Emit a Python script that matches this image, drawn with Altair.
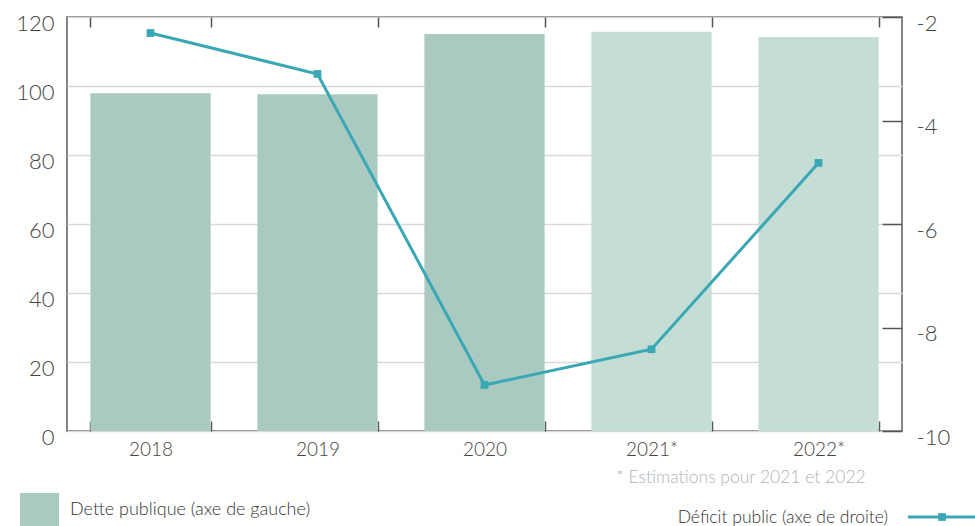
import altair as alt
import pandas as pd

# Public debt (% of GDP, left axis) and public deficit (% of GDP, right axis)
annees = ["2018", "2019", "2020", "2021*", "2022*"]
dette = [97.9, 97.6, 115.1, 115.7, 114.2]
deficit = [-2.31, -3.10, -9.11, -8.42, -4.82]
statut = ["Réalisé", "Réalisé", "Réalisé", "Estimation", "Estimation"]

ticks_gauche = [0, 20, 40, 60, 80, 100, 120]
ticks_droite = [-10, -8, -6, -4, -2]

legende_dette = "Dette publique (axe de gauche)"
legende_deficit = "Déficit public (axe de droite)"
note = "* Estimations pour 2021 et 2022"

FONT = "Lato"
WEIGHT = 300
TXT = "#444444"
BAR_DARK = "#aacac1"
BAR_LIGHT = "#c4ddd5"
LINE = "#3aa7b5"

df = pd.DataFrame({"annee": annees, "dette": dette, "deficit": deficit, "statut": statut})
one = pd.DataFrame({"k": [0]})

W, H = 835, 414

x_scale = alt.Scale(domain=annees, paddingInner=0.28, paddingOuter=0.14)

bars = alt.Chart(df).mark_bar().encode(
    x=alt.X("annee:N", sort=annees, scale=x_scale,
            axis=alt.Axis(title=None, orient="bottom", labelAngle=0, tickBand="extent",
                          offset=-10, tickSize=10, tickColor="#555", tickWidth=1.5,
                          domain=False, grid=False, labelPadding=9,
                          labelFont=FONT, labelFontSize=19, labelFontWeight=WEIGHT,
                          labelColor=TXT)),
    y=alt.Y("dette:Q", scale=alt.Scale(domain=[0, 120], nice=False, zero=True),
            axis=alt.Axis(title=None, orient="left", values=ticks_gauche, ticks=False,
                          domain=False, grid=True, gridColor="#d9d9d9", gridWidth=1.5,
                          labelPadding=13, labelOffset=6, labelFont=FONT,
                          labelFontSize=22, labelFontWeight=WEIGHT, labelColor=TXT)),
    color=alt.Color("statut:N", scale=alt.Scale(domain=["Réalisé", "Estimation"],
                                                range=[BAR_DARK, BAR_LIGHT]), legend=None),
)

line = alt.Chart(df).mark_line(
    color=LINE, strokeWidth=3,
    point=alt.OverlayMarkDef(shape="square", size=60, filled=True, color=LINE, opacity=1),
).encode(
    x=alt.X("annee:N", sort=annees, scale=x_scale,
            axis=alt.Axis(title=None, orient="top", labels=False, tickBand="extent",
                          offset=-10, tickSize=10, tickColor="#555", tickWidth=1.5,
                          domain=False, grid=False)),
    y=alt.Y("deficit:Q", scale=alt.Scale(domain=[-10, -2], nice=False, zero=False),
            axis=alt.Axis(title=None, orient="right", values=ticks_droite, offset=-20,
                          tickSize=20, tickColor="#555", tickWidth=1.5, domain=False,
                          grid=False, labelPadding=14, labelOffset=6, labelFont=FONT,
                          labelFontSize=22, labelFontWeight=WEIGHT, labelColor=TXT,
                          labelExpr="replace(datum.label, '\u2212', '-')")),
)

# footnote and legend items below the plot
footnote = alt.Chart(one).mark_text(font=FONT, fontSize=17.5, fontWeight=WEIGHT,
                                    color="#b3b3b3", align="center",
                                    baseline="middle").encode(
    x=alt.value(674), y=alt.value(461), text=alt.value(note))

leg_box = alt.Chart(one).mark_rect(color=BAR_DARK).encode(
    x=alt.value(-47), x2=alt.value(-8), y=alt.value(476), y2=alt.value(515))
leg_box_txt = alt.Chart(one).mark_text(font=FONT, fontSize=18, fontWeight=WEIGHT,
                                       color="#333", align="left",
                                       baseline="middle").encode(
    x=alt.value(3), y=alt.value(493), text=alt.value(legende_dette))

leg_line_txt = alt.Chart(one).mark_text(font=FONT, fontSize=17.5, fontWeight=WEIGHT,
                                        color="#333", align="right",
                                        baseline="middle").encode(
    x=alt.value(821), y=alt.value(501), text=alt.value(legende_deficit))
leg_line = alt.Chart(one).mark_rule(color=LINE, strokeWidth=3).encode(
    x=alt.value(841), x2=alt.value(910), y=alt.value(500))
leg_pt = alt.Chart(one).mark_point(shape="square", size=60, filled=True, color=LINE,
                                   opacity=1).encode(x=alt.value(875), y=alt.value(500))

chart = alt.layer(
    bars, line, footnote, leg_box, leg_box_txt, leg_line_txt, leg_line, leg_pt
).resolve_scale(
    y="independent"
).resolve_axis(
    x="independent", y="independent"
).properties(
    width=W, height=H,
    autosize=alt.AutoSizeParams(type="none"),
    padding={"left": 67, "top": 17, "right": 73, "bottom": 95},
    background="white",
).configure_view(
    stroke="#5e5e5e", strokeWidth=1.5
)

chart.save("out.html", embed_options={"renderer": "svg", "actions": False})
